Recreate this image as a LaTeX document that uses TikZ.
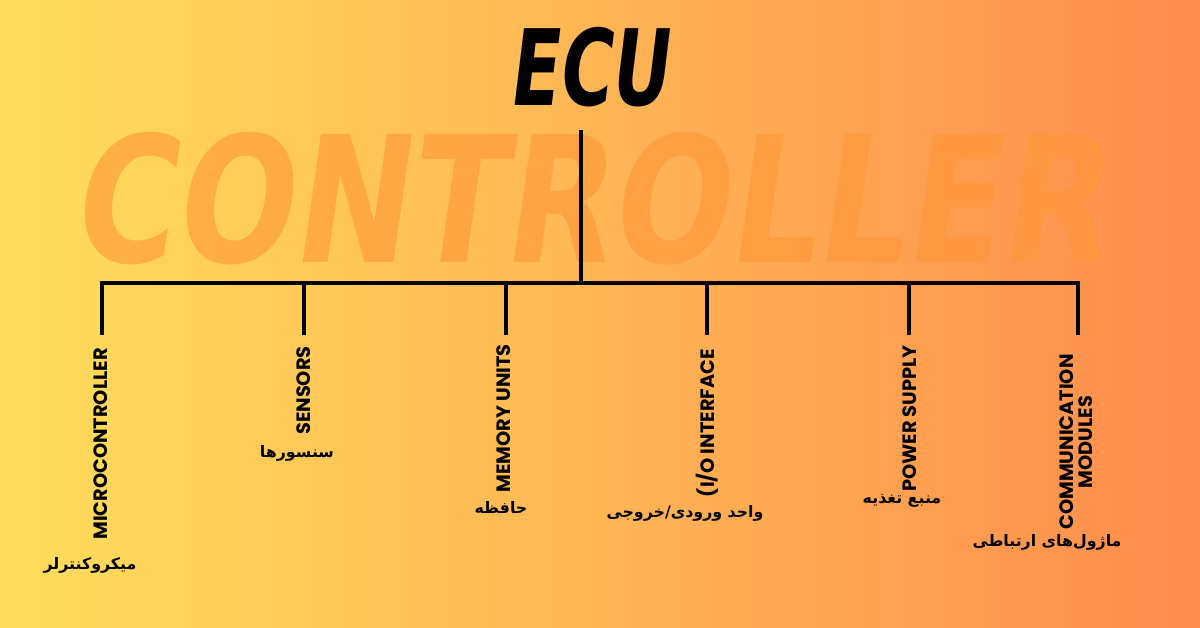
\documentclass[tikz,border=0pt]{standalone}
\usepackage{fontspec}
\usepackage{xcolor}
\usepackage{tikz}
\TeXXeTstate=1
\newfontfamily\titlefont{DejaVu Sans}[FakeSlant=0.18]
\newfontfamily\labelfont{Poppins}
\newfontfamily\arabicfont[Script=Arabic]{DejaVu Sans}
\definecolor{bgleft}{RGB}{255,222,92}
\definecolor{bgmid}{RGB}{255,190,86}
\definecolor{bgright}{RGB}{255,140,76}
\definecolor{ghostorange}{RGB}{255,150,55}

\begin{document}
\begin{tikzpicture}[
    x=0.02cm, y=-0.02cm,
    title/.style={font=\titlefont\bfseries\fontsize{60}{66}\selectfont, xscale=0.68, inner sep=0, text=black},
    ghost/.style={font=\titlefont\bfseries\fontsize{100}{110}\selectfont, xscale=0.79, inner sep=0, text=ghostorange, text opacity=0.6},
    enlabel/.style={font=\labelfont\bfseries\fontsize{11}{10.5}\selectfont, rotate=90, inner sep=0, anchor=east},
    falabel/.style={font=\arabicfont\bfseries\fontsize{9}{11}\selectfont, inner sep=0},
    branch/.style={line width=2.3pt}
]

% background
\fill [left color=bgleft, middle color=bgmid, right color=bgright] (0,0) rectangle (1200,628);

\node (ctrl) [ghost] at (588,199) {CONTROLLER};
\node (ecu) [title] at (588,67) {ECU};

% tree
\coordinate (top) at (581,130);
\coordinate (hub) at (581,283);
\coordinate (b1) at (102,283);
\coordinate (b2) at (304,283);
\coordinate (b3) at (506,283);
\coordinate (b4) at (707,283);
\coordinate (b5) at (909,283);
\coordinate (b6) at (1078,283);
\coordinate (e1) at (102,335);
\coordinate (e2) at (304,335);
\coordinate (e3) at (506,335);
\coordinate (e4) at (707,335);
\coordinate (e5) at (909,335);
\coordinate (e6) at (1078,335);

\draw [branch] (top) -- (hub);
\draw [branch] (e1) -- (b1) -- (b6) -- (e6);
\draw [branch] (b2) -- (e2);
\draw [branch] (b3) -- (e3);
\draw [branch] (b4) -- (e4);
\draw [branch] (b5) -- (e5);

% english labels
\node (en1) [enlabel] at (101,348) {MICROCONTROLLER};
\node (en2) [enlabel] at (304,346) {SENSORS};
\node (en3) [enlabel] at (504,344) {MEMORY UNITS};
\node (en4) [enlabel] at (707,349) {(I/O INTERFACE};
\node (en5) [enlabel] at (910,345) {POWER SUPPLY};
\node (en6) [enlabel, anchor=center, align=center] at (1076,442) {COMMUNICATION\\MODULES};

% persian labels
\node (fa1) [falabel] at (90,565) {\beginR میکروکنترلر\endR};
\node (fa2) [falabel] at (297,453) {\beginR سنسورها\endR};
\node (fa3) [falabel] at (501,507) {\beginR حافظه\endR};
\node (fa4) [falabel] at (685,513) {\beginR واحد ورودی/خروجی\endR};
\node (fa5) [falabel] at (902,501) {\beginR منبع تغذیه\endR};
\node (fa6) [falabel] at (1047,542) {\beginR ماژول‌های ارتباطی\endR};

\end{tikzpicture}
\end{document}
